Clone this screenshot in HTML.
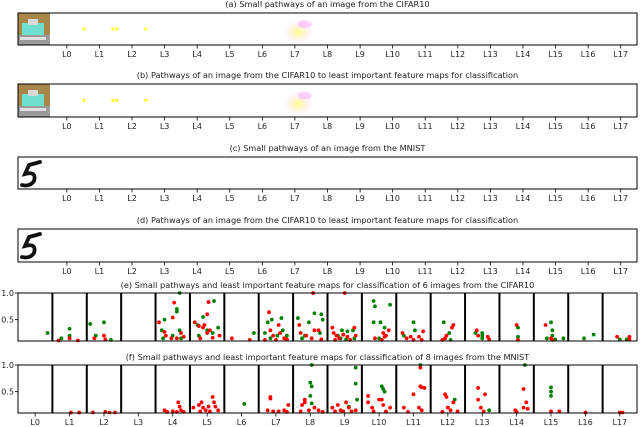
<!DOCTYPE html>
<html><head><meta charset="utf-8">
<style>
html,body{margin:0;padding:0;background:#fff;}
svg{display:block;font-family:"DejaVu Sans","Liberation Sans",sans-serif;}
</style></head>
<body>
<svg id="fig" width="640" height="427" viewBox="0 0 640 427" xmlns="http://www.w3.org/2000/svg">
<defs>
<radialGradient id="blur" cx="0.5" cy="0.5" r="0.5">
<stop offset="0" stop-color="#ffff66" stop-opacity="0.8"/>
<stop offset="1" stop-color="#ffccff" stop-opacity="0"/>
</radialGradient>
</defs>
<g id="root"></g>
</svg>
<script>
// ---- data ----
const layerLabels = ["L0","L1","L2","L3","L4","L5","L6","L7","L8","L9","L10","L11","L12","L13","L14","L15","L16","L17"];
const yTicks = [0.5, 1.0];
const yTickLabels = ["0.5", "1.0"];
// panel e (CIFAR10): [layer, position-in-layer 0..1, value]
const eRed = [[1,0.1,0.11],[1,0.5,0.15],[1,0.8,0.11],[2,0.15,0.15],[2,0.5,0.2],[2,0.55,0.13],[4,0.0,0.45],[4,0.2,0.27],[4,0.25,0.2],[4,0.5,0.54],[4,0.55,0.82],[4,0.45,0.15],[4,0.65,0.15],[4,0.8,0.25],[4,0.9,0.18],[5,0.05,0.45],[5,0.2,0.38],[5,0.35,0.35],[5,0.4,0.4],[5,0.5,0.6],[5,0.55,0.83],[5,0.6,0.3],[5,0.5,0.25],[5,0.7,0.16],[5,0.95,0.2],[5,0.25,0.15],[6,0.15,0.15],[6,0.8,0.12],[7,0.25,0.64],[7,0.3,0.3],[7,0.4,0.2],[7,0.6,0.4],[7,0.65,0.25],[7,0.1,0.12],[7,0.5,0.12],[7,0.8,0.15],[7,0.9,0.13],[8,0.1,0.4],[8,0.15,0.25],[8,0.35,0.2],[8,0.6,1.0],[8,0.65,0.3],[8,0.55,0.15],[8,0.8,0.3],[8,0.9,0.13],[9,0.05,0.35],[9,0.1,0.25],[9,0.2,0.2],[9,0.3,0.15],[9,0.45,0.22],[9,0.5,1.0],[9,0.6,0.18],[9,0.7,0.12],[9,0.85,0.35],[9,0.9,0.2],[9,0.15,0.12],[10,0.35,0.15],[10,0.65,0.25],[10,0.7,0.18],[10,0.75,0.2],[10,0.6,0.12],[10,0.85,0.3],[11,0.1,0.25],[11,0.25,0.15],[11,0.4,0.18],[11,0.5,0.12],[11,0.7,0.18],[11,0.85,0.28],[11,0.8,0.12],[12,0.3,0.12],[12,0.45,0.2],[12,0.65,0.35],[12,0.7,0.4],[12,0.4,0.15],[13,0.3,0.3],[13,0.35,0.2],[13,0.7,0.18],[13,0.75,0.13],[14,0.5,0.4],[14,0.55,0.12],[15,0.3,0.4],[15,0.5,0.15],[15,0.55,0.12],[17,0.4,0.18],[17,0.85,0.18],[17,0.85,0.13]];
const eGreen = [[0,0.95,0.25],[1,0.2,0.15],[1,0.5,0.33],[1,0.5,0.2],[2,0.0,0.42],[2,0.2,0.2],[2,0.5,0.45],[2,0.75,0.12],[4,0.2,0.5],[4,0.1,0.3],[4,0.65,0.7],[4,0.65,0.65],[4,0.75,0.3],[4,0.75,1.0],[4,0.15,0.15],[4,0.5,0.2],[4,0.8,0.15],[5,0.15,0.4],[5,0.35,0.55],[5,0.5,0.3],[5,0.75,0.85],[5,0.7,0.25],[5,0.9,0.35],[5,0.2,0.2],[6,0.95,0.25],[7,0.1,0.25],[7,0.2,0.45],[7,0.35,0.5],[7,0.7,0.53],[7,0.75,0.3],[7,0.55,0.2],[7,0.3,0.15],[7,0.9,0.2],[8,0.05,0.53],[8,0.3,0.2],[8,0.45,0.45],[8,0.65,0.62],[8,0.9,0.6],[8,0.85,0.25],[8,0.95,0.5],[8,0.2,0.15],[9,0.25,0.2],[9,0.4,0.3],[9,0.45,0.22],[9,0.6,0.28],[9,0.8,0.3],[9,0.85,0.15],[9,0.35,0.15],[9,0.55,0.13],[10,0.3,0.85],[10,0.35,0.75],[10,0.55,0.45],[10,0.3,0.45],[10,0.9,0.78],[10,0.5,0.15],[10,0.7,0.35],[11,0.15,0.2],[11,0.5,0.45],[11,0.55,0.3],[12,0.35,0.45],[12,0.55,0.25],[12,0.6,0.12],[13,0.25,0.25],[13,0.5,0.25],[13,0.5,0.2],[13,0.5,0.15],[14,0.55,0.35],[14,0.55,0.18],[15,0.5,0.45],[15,0.55,0.3],[15,0.55,0.2],[15,0.35,0.15],[15,0.65,0.13],[15,0.95,0.15],[16,0.45,0.15],[16,0.8,0.22],[17,0.5,0.13],[17,0.75,0.13]];
// panel f (MNIST)
const fRed = [[1,0.55,0.11],[1,0.85,0.11],[2,0.1,0.11],[2,0.55,0.12],[2,0.7,0.11],[2,0.9,0.11],[4,0.2,0.15],[4,0.3,0.12],[4,0.5,0.13],[4,0.7,0.3],[4,0.75,0.22],[4,0.8,0.15],[4,0.9,0.12],[4,0.65,0.12],[5,0.0,0.2],[5,0.2,0.25],[5,0.3,0.3],[5,0.35,0.2],[5,0.45,0.15],[5,0.55,0.22],[5,0.7,0.4],[5,0.75,0.3],[5,0.8,0.22],[5,0.9,0.15],[5,0.25,0.13],[5,0.6,0.13],[7,0.3,0.4],[7,0.3,0.37],[7,0.2,0.15],[7,0.4,0.13],[7,0.6,0.13],[7,0.8,0.15],[7,0.95,0.25],[7,0.9,0.12],[8,0.2,0.25],[8,0.3,0.35],[8,0.3,0.3],[8,0.45,0.15],[8,0.65,0.2],[8,0.8,0.15],[8,0.95,0.12],[8,0.15,0.13],[9,0.05,0.2],[9,0.15,0.13],[9,0.25,0.25],[9,0.35,0.15],[9,0.55,0.3],[9,0.65,0.2],[9,0.75,0.13],[9,0.9,0.15],[9,0.45,0.13],[10,0.1,0.42],[10,0.1,0.3],[10,0.25,0.2],[10,0.5,0.35],[10,0.6,0.35],[10,0.65,0.25],[10,0.75,0.13],[10,0.9,0.2],[10,0.3,0.13],[11,0.15,0.2],[11,0.3,0.12],[11,0.5,0.45],[11,0.75,0.95],[11,0.75,0.6],[11,0.8,0.58],[11,0.9,0.57],[11,0.7,0.2],[11,0.8,0.15],[12,0.3,0.12],[12,0.4,0.45],[12,0.45,0.4],[12,0.5,0.2],[12,0.6,0.15],[12,0.7,0.3],[12,0.85,0.13],[13,0.35,0.57],[13,0.35,0.35],[13,0.45,0.2],[13,0.6,0.45],[13,0.55,0.13],[14,0.45,0.15],[14,0.5,0.12],[14,0.75,0.55],[14,0.75,0.2],[14,0.85,0.3],[14,0.9,0.18],[15,0.5,0.13],[15,0.8,0.13],[16,0.5,0.11],[17,0.5,0.11],[17,0.6,0.11]];
const fGreen = [[6,0.6,0.27],[8,0.55,1.0],[8,0.5,0.67],[8,0.55,0.6],[8,0.5,0.42],[8,0.55,0.28],[9,0.9,0.95],[9,0.9,0.65],[9,0.95,0.35],[9,0.65,0.22],[10,0.6,0.6],[10,0.65,0.55],[10,0.7,0.5],[11,0.75,1.0],[12,0.75,0.35],[13,0.75,0.15],[14,0.8,1.0],[15,0.5,0.58],[15,0.5,0.5],[15,0.5,0.42]];
// strip panels (a,b): bright dots [position in tick units, y fraction]
const stripDots = [[0.52,0.5],[1.41,0.5],[1.53,0.5],[2.42,0.5]];

// ---- layout ----
const NS = "http://www.w3.org/2000/svg";
const root = document.getElementById("root");
const X0 = 18, X1 = 637;
function el(tag, attrs, parent){ const e=document.createElementNS(NS,tag); for(const k in attrs) e.setAttribute(k,attrs[k]); (parent||root).appendChild(e); return e; }
function txt(x,y,s,size,anchor,parent){ const t=el("text",{x:x,y:y,"font-size":size,"text-anchor":anchor||"middle",fill:"#222"},parent); t.textContent=s; return t; }

const stripW = (X1-X0)/19; // 19 slots: image + 18 layers
function stripTick(u){ return X0 + stripW*(u+1.5); } // tick coordinate
const scatW = (X1-X0)/18;
function scatX(layer,pos){ return X0 + scatW*(layer + 0.1 + 0.8*pos); }
function scatY(v, top, bot){ const lo=0.1, hi=1.0; return bot - (v-lo)/(hi-lo)*(bot-top); }

function stripPanel(id, title, top, bot, kind, dots){
  const g = el("g",{});
  
  
  const t = txt((X0+X1)/2, top-6, title, 8.2, "middle", g);
  
  
  if(kind==="cifar"){
    const im = el("g",{},g);
    
    
    el("rect",{x:X0,y:top,width:32,height:bot-top,fill:"#a8864a"},im);
    el("rect",{x:X0+4,y:top+10,width:22,height:12,fill:"#6fe0cf"},im);
    el("rect",{x:X0+10,y:top+6,width:10,height:6,fill:"#d9d9d9"},im);
    el("rect",{x:X0,y:top+22,width:32,height:bot-top-22,fill:"#9a9a9a"},im);
    el("rect",{x:X0+2,y:top+24,width:26,height:3,fill:"#e0e0e0"},im);
  } else {
    const p = el("path",{d:`M${X0+11} ${top+8} L${X0+7} ${top+17} Q${X0+19} ${top+14} ${X0+16} ${top+24} Q${X0+12} ${top+30} ${X0+4} ${top+28} M${X0+11} ${top+8} L${X0+22} ${top+5}`,stroke:"#111","stroke-width":3.8,fill:"none","stroke-linecap":"round"},g);
    
    
  }
  if(dots){
    dots.forEach(d=>{
      const c = el("rect",{x:stripTick(d[0])-1.5,y:top+(bot-top)*d[1]-1.5,width:3,height:3,fill:"#ffff33"},g);
      
      
    });
    const b = el("ellipse",{cx:stripTick(7.1),cy:top+(bot-top)*0.6,rx:16,ry:13,fill:"url(#blur)"},g);
    
    
    el("ellipse",{cx:stripTick(7.3),cy:top+(bot-top)*0.35,rx:7,ry:4,fill:"#ff99ff",opacity:0.45},g);
  }
  const r = el("rect",{x:X0,y:top,width:X1-X0,height:bot-top,fill:"none",stroke:"#000","stroke-width":1},g);
  
  
  layerLabels.forEach((L,i)=>{
    const x = stripTick(i);
    el("line",{x1:x,x2:x,y1:bot,y2:bot+3.5,stroke:"#000","stroke-width":0.8},g);
    const tl = txt(x, bot+12, L, 8, "middle", g);
    
    
  });
}

function scatterPanel(id, title, top, bot, red, green, showX){
  const g = el("g",{});
  
  
  const t = txt((X0+X1)/2, top-5, title, 8.2, "middle", g);
  
  
  for(let k=1;k<18;k++){
    const x = X0+scatW*k;
    const s = el("line",{x1:x,x2:x,y1:top,y2:bot,stroke:"#000","stroke-width":2},g);
    
    
  }
  const pts = green.map(p=>[p,"#008000"]).concat(red.map(p=>[p,"#ff0000"]));
  pts.forEach(([p,c])=>{
    const d = el("circle",{cx:scatX(p[0],p[1]),cy:scatY(p[2],top,bot),r:1.9,fill:c},g);
    
    
  });
  const r = el("rect",{x:X0,y:top,width:X1-X0,height:bot-top,fill:"none",stroke:"#000","stroke-width":1},g);
  
  
  yTicks.forEach((v,i)=>{
    const y = scatY(v,top,bot);
    el("line",{x1:X0-3,x2:X0,y1:y,y2:y,stroke:"#000","stroke-width":0.8},g);
    const yl = txt(X0-4, y+3, yTickLabels[i], 8, "end", g);
    
    
  });
  if(showX){
    layerLabels.forEach((L,i)=>{
      const x = X0+scatW*(i+0.5);
      el("line",{x1:x,x2:x,y1:bot,y2:bot+3.5,stroke:"#000","stroke-width":0.8},g);
      const tl = txt(x, bot+12, L, 8, "middle", g);
      
      
    });
  }
}

stripPanel("a","(a) Small pathways of an image from the CIFAR10",13,45,"cifar",stripDots);
stripPanel("b","(b) Pathways of an image from the CIFAR10 to least important feature maps for classification",84,117,"cifar",stripDots);
stripPanel("c","(c) Small pathways of an image from the MNIST",157,189,"mnist",null);
stripPanel("d","(d) Pathways of an image from the CIFAR10 to least important feature maps for classification",229,262,"mnist",null);
scatterPanel("e","(e) Small pathways and least important feature maps for classification of 6 images from the CIFAR10",293,341,eRed,eGreen,false);
scatterPanel("f","(f) Small pathways and least important feature maps for classification of 8 images from the MNIST",365,413,fRed,fGreen,true);
</script>
</body></html>
